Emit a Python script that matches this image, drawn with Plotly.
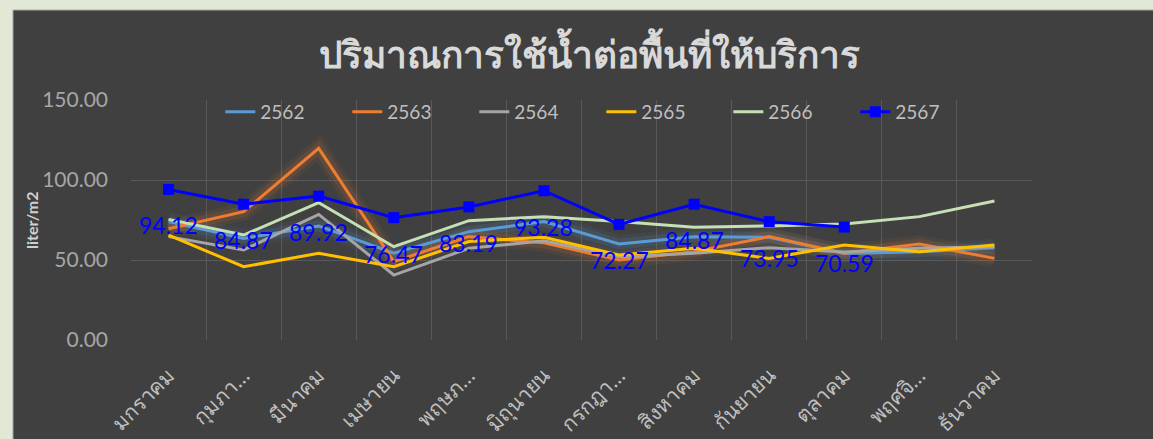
import plotly.graph_objects as go

months = ["มกราคม", "กุมภา…", "มีนาคม", "เมษายน", "พฤษภ…", "มิถุนายน",
          "กรกฎา…", "สิงหาคม", "กันยายน", "ตุลาคม", "พฤศจิ…", "ธันวาคม"]

y2562 = [74.0, 63.5, 71.3, 54.2, 67.7, 74.0, 60.0, 64.6, 64.2, 54.0, 55.2, 57.7]
y2563 = [69.5, 80.2, 119.8, 49.0, 64.6, 60.7, 50.0, 55.2, 64.6, 54.2, 60.0, 51.0]
y2564 = [64.6, 56.3, 78.5, 40.6, 57.3, 62.0, 52.0, 54.2, 57.7, 55.0, 57.3, 58.3]
y2565 = [65.6, 45.8, 54.2, 45.8, 61.5, 64.2, 53.1, 57.3, 51.0, 59.4, 55.2, 59.4]
y2566 = [75.4, 65.6, 85.8, 58.3, 74.6, 77.1, 74.0, 70.4, 71.3, 72.5, 77.1, 86.9]
y2567 = [94.12, 84.87, 89.92, 76.47, 83.19, 93.28, 72.27, 84.87, 73.95, 70.59, None, None]

series = [
    ("2562", y2562, "#5b9bd5"),
    ("2563", y2563, "#ed7d31"),
    ("2564", y2564, "#a5a5a5"),
    ("2565", y2565, "#ffc000"),
    ("2566", y2566, "#c5e0b4"),
]

glow = {"2562": "91,155,213", "2563": "237,125,49"}

fig = go.Figure()

# soft glow under two series
for name, vals, col in series:
    if name in glow:
        for w, a in [(18, 0.07), (11, 0.12)]:
            fig.add_trace(go.Scatter(x=months, y=vals, mode="lines",
                                     line=dict(color=f"rgba({glow[name]},{a})", width=w),
                                     showlegend=False, hoverinfo="skip"))

for name, vals, col in series:
    fig.add_trace(go.Scatter(x=months, y=vals, name=name, mode="lines",
                             line=dict(color=col, width=3)))

fig.add_trace(go.Scatter(x=months, y=y2567, name="2567", mode="lines+markers",
                         line=dict(color="#0000ff", width=3),
                         marker=dict(symbol="square", size=11, color="#0000ff")))

for m, v in zip(months, y2567):
    if v is not None:
        fig.add_annotation(x=m, y=v, text=f"{v:.2f}", showarrow=False,
                           yshift=-36, font=dict(color="#0000ff", size=23,
                                                  family="Lato, Noto Sans, sans-serif"))

# y-axis title
fig.add_annotation(xref="paper", yref="paper", x=-0.111, y=0.5, text="<b>liter/m2</b>",
                   textangle=-90, showarrow=False, xanchor="center", yanchor="middle",
                   font=dict(size=16, color="#d0d0d0", family="Lato, Noto Sans, sans-serif"))

fig.add_shape(type="rect", xref="paper", yref="paper",
              x0=-0.131, x1=1.14, y0=-0.42, y1=1.375,
              fillcolor="#404040", line=dict(color="#a8a8a8", width=1), layer="below")

fig.update_layout(
    width=1153, height=439,
    margin=dict(l=131, r=121, t=100, b=99, autoexpand=False),
    paper_bgcolor="#e1e8d5",
    plot_bgcolor="rgba(0,0,0,0)",
    title=dict(text="<b>ปริมาณการใช้น้ำต่อพื้นที่ให้บริการ</b>", x=0.511, xanchor="center",
               y=1 - 55 / 439, yanchor="middle",
               font=dict(size=37, color="#d9d9d9", family="Noto Sans, sans-serif")),
    legend=dict(orientation="h", x=0.522, xanchor="center", y=0.95, yanchor="middle",
                font=dict(size=19, color="#bfbfbf", family="Lato, Noto Sans, sans-serif"),
                bgcolor="rgba(0,0,0,0)", entrywidth=82, entrywidthmode="pixels"),
    font=dict(family="Lato, Noto Sans, sans-serif"),
    showlegend=True,
)

fig.update_xaxes(type="category", range=[-0.5, 11.5], tickson="boundaries", showgrid=True,
                 gridcolor="#595959", gridwidth=1, tickangle=-45, automargin=False,
                 tickfont=dict(size=21, color="#bfbfbf", family="Noto Sans, sans-serif"),
                 ticks="", showline=False, zeroline=False, ticklabelstandoff=18)
fig.update_yaxes(range=[0, 150], dtick=50, tickformat=".2f", showgrid=True,
                 gridcolor="#595959", gridwidth=1, zeroline=False, automargin=False,
                 tickfont=dict(size=21, color="#a6a6a6"),
                 ticks="", showline=False, ticklabelstandoff=22)

fig.write_html("out.html", config={"displayModeBar": False},
               post_script="document.body.style.margin='0';document.body.style.background='#e1e8d5';")
